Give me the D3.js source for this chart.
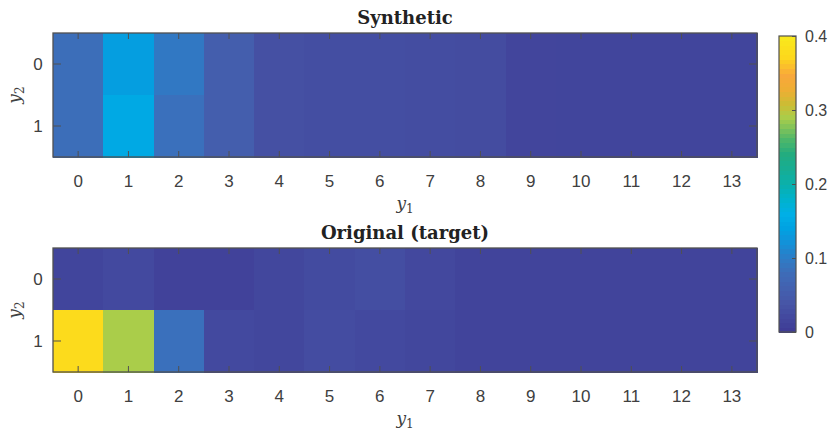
<!DOCTYPE html>
<html>
<head>
<meta charset="utf-8">
<script src="https://cdn.jsdelivr.net/npm/d3@7"></script>
<style>
  body { margin: 0; background: #fff; }
  svg text { fill: #404040; }
</style>
</head>
<body>
<div id="chart"></div>
<script>
// y1 categories (columns) and y2 categories (rows)
var y1Cats = [0, 1, 2, 3, 4, 5, 6, 7, 8, 9, 10, 11, 12, 13];
var y2Cats = [0, 1];

// values, one array per row
var synthRow0 = [0.082, 0.135, 0.095, 0.054, 0.032, 0.028, 0.028, 0.027, 0.025, 0.016, 0.015, 0.015, 0.015, 0.015];
var synthRow1 = [0.082, 0.150, 0.085, 0.054, 0.032, 0.028, 0.028, 0.027, 0.025, 0.016, 0.015, 0.015, 0.015, 0.015];
var origRow0 = [0.015, 0.022, 0.012, 0.012, 0.018, 0.024, 0.028, 0.020, 0.014, 0.014, 0.014, 0.014, 0.014, 0.014];
var origRow1 = [0.376, 0.290, 0.085, 0.022, 0.018, 0.026, 0.022, 0.018, 0.014, 0.014, 0.014, 0.014, 0.014, 0.014];

var cbarTicks = [0, 0.1, 0.2, 0.3, 0.4];

// parula-like colour stops (fraction of range -> colour), as seen in the picture
var stopPos = [0, 0.10, 0.20, 0.25, 0.30, 0.35, 0.40, 0.45, 0.50, 0.55, 0.60, 0.65, 0.70, 0.725, 0.77, 0.82, 0.87, 0.93, 1];
var stopCol = ["#3e3a95", "#4756a7", "#3e6cb8", "#2d7cc6", "#1490d8", "#00a2e2", "#00afe6",
    "#00b2cc", "#0ab0ac", "#17ad94", "#22ac80", "#4cb66a", "#8cc555", "#aacd4a", "#ccbc34", "#eeae34",
    "#f9a83b", "#fdd81c", "#f8ea1c"];

var W = 830, H = 433;
var svg = d3.select("#chart").append("svg").attr("width", W).attr("height", H)
    .style("font-family", "'Liberation Sans', Arial, sans-serif");

var color = d3.scaleLinear()
    .domain(stopPos.map(function (p) { return p * 0.4; }))
    .range(stopCol)
    .interpolate(d3.interpolateRgb)
    .clamp(true);

var x = d3.scaleBand().domain(y1Cats).range([53, 757]).padding(0);

function toCells(rows) {
    var cells = [];
    rows.forEach(function (row, r) {
        row.forEach(function (v, c) {
            cells.push({ y1: y1Cats[c], y2: y2Cats[r], v: v });
        });
    });
    return cells;
}

function subLabel(g, xx, yy, letter, sub, rotate) {
    var t = g.append("text")
        .attr("text-anchor", "middle")
        .style("font-family", "'DejaVu Serif', serif")
        .style("font-style", "italic")
        .style("font-size", "17px")
        .style("fill", "#404040");
    if (rotate) t.attr("transform", "translate(" + xx + "," + yy + ") rotate(-90)");
    else t.attr("x", xx).attr("y", yy);
    t.append("tspan").text(letter);
    t.append("tspan").attr("dy", 4).style("font-size", "12px").style("font-style", "normal").text(sub);
}

function heatmap(top, bottom, rows, title) {
    var y = d3.scaleBand().domain(y2Cats).range([top, bottom]);
    var g = svg.append("g");

    g.selectAll("rect.cell")
        .data(toCells(rows))
        .enter().append("rect")
        .attr("class", "cell")
        .attr("x", function (d) { return x(d.y1); })
        .attr("y", function (d) { return y(d.y2); })
        .attr("width", x.bandwidth() + 0.5)
        .attr("height", y.bandwidth() + 0.5)
        .attr("fill", function (d) { return color(d.v); })
        .attr("shape-rendering", "crispEdges");

    // box
    g.append("rect")
        .attr("x", 53).attr("y", top)
        .attr("width", 704).attr("height", bottom - top)
        .attr("fill", "none").attr("stroke", "#505050").attr("stroke-width", 1.3);

    // inward ticks on all four sides
    var xt = x.bandwidth() / 2;
    y1Cats.forEach(function (c) {
        var cx = x(c) + xt;
        g.append("line").attr("x1", cx).attr("x2", cx).attr("y1", bottom).attr("y2", bottom - 6)
            .attr("stroke", "#505050");
        g.append("line").attr("x1", cx).attr("x2", cx).attr("y1", top).attr("y2", top + 6)
            .attr("stroke", "#505050");
        g.append("text").attr("x", cx).attr("y", bottom + 30)
            .attr("text-anchor", "middle").style("font-size", "17px").text(c);
    });
    y2Cats.forEach(function (r) {
        var cy = y(r) + y.bandwidth() / 2;
        g.append("line").attr("x1", 53).attr("x2", 61).attr("y1", cy).attr("y2", cy)
            .attr("stroke", "#505050");
        g.append("line").attr("x1", 757).attr("x2", 749).attr("y1", cy).attr("y2", cy)
            .attr("stroke", "#505050");
        g.append("text").attr("x", 38).attr("y", cy + 6)
            .attr("text-anchor", "middle").style("font-size", "17px").text(r);
    });

    g.append("text").attr("x", 405).attr("y", top - 9)
        .attr("text-anchor", "middle")
        .style("font-family", "'DejaVu Serif', serif")
        .style("font-weight", "bold")
        .style("font-size", "18px")
        .style("fill", "#222")
        .text(title);

    subLabel(g, 405, bottom + 52, "y", "1", false);
    subLabel(g, 20, (top + bottom) / 2, "y", "2", true);
}

heatmap(33, 157, [synthRow0, synthRow1], "Synthetic");
heatmap(248, 372, [origRow0, origRow1], "Original (target)");

// colour bar
var cb = svg.append("g");
var cbY = d3.scaleLinear().domain([0, 0.4]).range([332, 36]);
var steps = d3.range(0, 64);
cb.selectAll("rect.cb")
    .data(steps)
    .enter().append("rect")
    .attr("class", "cb")
    .attr("x", 779)
    .attr("y", function (i) { return cbY((i + 1) * 0.4 / 64); })
    .attr("width", 17)
    .attr("height", function (i) { return cbY(i * 0.4 / 64) - cbY((i + 1) * 0.4 / 64) + 0.5; })
    .attr("fill", function (i) { return color((i + 0.5) * 0.4 / 64); })
    .attr("shape-rendering", "crispEdges");
cb.append("rect").attr("x", 779).attr("y", 36).attr("width", 17).attr("height", 296)
    .attr("fill", "none").attr("stroke", "#505050").attr("stroke-width", 1.2);

var cbAxis = d3.axisRight(cbY).tickValues(cbarTicks).tickSize(-4)
    .tickFormat(function (d) { return d === 0 ? "0" : d3.format(".1f")(d); });
var cbg = cb.append("g").attr("transform", "translate(796,0)").call(cbAxis);
cbg.select(".domain").remove();
cbg.selectAll(".tick line").attr("stroke", "#505050");
cbg.selectAll(".tick text").attr("x", 9).style("font-size", "16px")
    .style("font-family", "'Liberation Sans', Arial, sans-serif").style("fill", "#404040");
</script>
</body>
</html>
